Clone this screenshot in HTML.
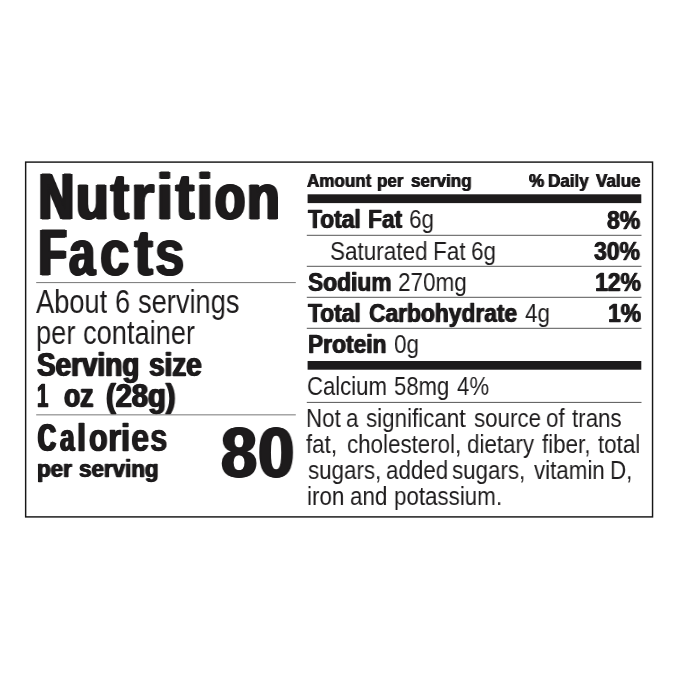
<!DOCTYPE html>
<html lang="en">
<head>
<meta charset="utf-8">
<title>Nutrition Facts</title>
<style>
html,body{margin:0;padding:0;background:#fff;overflow:hidden;}
body{width:679px;height:679px;position:relative;overflow:hidden;font-family:"Liberation Sans",sans-serif;color:#1d1b1c;}
.t{position:absolute;white-space:nowrap;line-height:1;transform-origin:0 0;font-kerning:normal;will-change:transform;}
.b{font-weight:bold;}
.r{position:absolute;}
</style>
</head>
<body>
<svg id="lines" class="r" width="679" height="679" viewBox="0 0 679 679" style="left:0;top:0" shape-rendering="geometricPrecision">
<rect x="25.65" y="162.10" width="626.90" height="354.80" fill="none" stroke="#161616" stroke-width="1.45"/>
<line x1="36.20" y1="282.60" x2="295.80" y2="282.60" stroke="#777" stroke-width="1.00"/>
<line x1="36.20" y1="414.85" x2="295.80" y2="414.85" stroke="#777" stroke-width="1.00"/>
<line x1="306.80" y1="235.30" x2="641.50" y2="235.30" stroke="#555" stroke-width="1.00"/>
<line x1="306.80" y1="266.30" x2="641.50" y2="266.30" stroke="#555" stroke-width="1.00"/>
<line x1="306.80" y1="297.30" x2="641.50" y2="297.30" stroke="#555" stroke-width="1.00"/>
<line x1="306.80" y1="328.30" x2="641.50" y2="328.30" stroke="#555" stroke-width="1.00"/>
<line x1="306.80" y1="402.40" x2="641.50" y2="402.40" stroke="#555" stroke-width="1.00"/>
<rect x="307.60" y="194.30" width="333.70" height="8.80" fill="#1d1b1c"/>
<rect x="307.60" y="361.00" width="333.70" height="8.70" fill="#1d1b1c"/>
</svg>
<div class="t b" id="t1_0" style="left:38.83px;top:164.21px;font-size:65.60px;transform:scaleX(0.7318);-webkit-text-stroke:1.10px #1d1b1c;text-shadow:2.75px 0 0 #1d1b1c,-2.75px 0 0 #1d1b1c">N</div>
<div class="t b" id="t1_1" style="left:75.56px;top:164.21px;font-size:65.60px;transform:scaleX(0.8109);-webkit-text-stroke:1.10px #1d1b1c;text-shadow:1.99px 0 0 #1d1b1c,-1.99px 0 0 #1d1b1c">u</div>
<div class="t b" id="t1_2" style="left:111.16px;top:164.21px;font-size:65.60px;transform:scaleX(0.8070);-webkit-text-stroke:1.10px #1d1b1c;text-shadow:2.02px 0 0 #1d1b1c,-2.02px 0 0 #1d1b1c">t</div>
<div class="t b" id="t1_3" style="left:131.00px;top:164.21px;font-size:65.60px;transform:scaleX(0.9158);-webkit-text-stroke:1.10px #1d1b1c;text-shadow:1.18px 0 0 #1d1b1c,-1.18px 0 0 #1d1b1c">r</div>
<div class="t b" id="t1_4" style="left:156.51px;top:164.21px;font-size:65.60px;transform:scaleX(0.8500);-webkit-text-stroke:1.10px #1d1b1c;text-shadow:2.12px 0 0 #1d1b1c,-2.12px 0 0 #1d1b1c">i</div>
<div class="t b" id="t1_5" style="left:176.02px;top:164.21px;font-size:65.60px;transform:scaleX(0.8179);-webkit-text-stroke:1.10px #1d1b1c;text-shadow:1.93px 0 0 #1d1b1c,-1.93px 0 0 #1d1b1c">t</div>
<div class="t b" id="t1_6" style="left:197.31px;top:164.21px;font-size:65.60px;transform:scaleX(0.8500);-webkit-text-stroke:1.10px #1d1b1c;text-shadow:2.12px 0 0 #1d1b1c,-2.12px 0 0 #1d1b1c">i</div>
<div class="t b" id="t1_7" style="left:215.13px;top:164.21px;font-size:65.60px;transform:scaleX(0.7519);-webkit-text-stroke:1.10px #1d1b1c;text-shadow:2.27px 0 0 #1d1b1c,-2.27px 0 0 #1d1b1c">o</div>
<div class="t b" id="t1_8" style="left:246.60px;top:164.21px;font-size:65.60px;transform:scaleX(0.8174);-webkit-text-stroke:1.10px #1d1b1c;text-shadow:1.93px 0 0 #1d1b1c,-1.93px 0 0 #1d1b1c">n</div>
<div class="t b" id="t2_0" style="left:38.73px;top:220.01px;font-size:65.60px;transform:scaleX(0.6835);-webkit-text-stroke:1.10px #1d1b1c;text-shadow:2.93px 0 0 #1d1b1c,-2.93px 0 0 #1d1b1c">F</div>
<div class="t b" id="t2_1" style="left:69.40px;top:220.01px;font-size:65.60px;transform:scaleX(0.7181);-webkit-text-stroke:1.10px #1d1b1c;text-shadow:1.64px 0 0 #1d1b1c,-1.64px 0 0 #1d1b1c">a</div>
<div class="t b" id="t2_2" style="left:99.96px;top:220.01px;font-size:65.60px;transform:scaleX(0.8008);-webkit-text-stroke:1.10px #1d1b1c;text-shadow:1.58px 0 0 #1d1b1c,-1.58px 0 0 #1d1b1c">c</div>
<div class="t b" id="t2_3" style="left:134.52px;top:220.01px;font-size:65.60px;transform:scaleX(0.8003);-webkit-text-stroke:1.10px #1d1b1c;text-shadow:2.08px 0 0 #1d1b1c,-2.08px 0 0 #1d1b1c">t</div>
<div class="t b" id="t2_4" style="left:155.42px;top:220.01px;font-size:65.60px;transform:scaleX(0.8066);-webkit-text-stroke:1.10px #1d1b1c;text-shadow:1.16px 0 0 #1d1b1c,-1.16px 0 0 #1d1b1c">s</div>
<div class="t" id="l1_0" style="left:35.85px;top:285.90px;font-size:32.50px;transform:scaleX(0.8382)">About</div>
<div class="t" id="l1_1" style="left:114.87px;top:285.90px;font-size:32.50px;transform:scaleX(0.8382)">6</div>
<div class="t" id="l1_2" style="left:138.40px;top:285.90px;font-size:32.50px;transform:scaleX(0.8382)">servings</div>
<div class="t" id="l2_0" style="left:36.12px;top:317.00px;font-size:32.50px;transform:scaleX(0.8382)">per</div>
<div class="t" id="l2_1" style="left:83.13px;top:317.00px;font-size:32.50px;transform:scaleX(0.8382)">container</div>
<div class="t b" id="l3_0" style="left:37.07px;top:348.50px;font-size:32.30px;transform:scaleX(0.8637);-webkit-text-stroke:0.50px #1d1b1c;text-shadow:1.00px 0 0 #1d1b1c,-1.00px 0 0 #1d1b1c">Serving</div>
<div class="t b" id="l3_1" style="left:148.93px;top:348.50px;font-size:32.30px;transform:scaleX(0.8637);-webkit-text-stroke:0.50px #1d1b1c;text-shadow:1.00px 0 0 #1d1b1c,-1.00px 0 0 #1d1b1c">size</div>
<div class="t b" id="l4_0" style="left:37.44px;top:379.50px;font-size:32.30px;transform:scaleX(0.6299);-webkit-text-stroke:0.50px #1d1b1c;text-shadow:1.00px 0 0 #1d1b1c,-1.00px 0 0 #1d1b1c">1</div>
<div class="t b" id="l4_1" style="left:64.00px;top:379.50px;font-size:32.30px;transform:scaleX(0.8190);-webkit-text-stroke:0.50px #1d1b1c;text-shadow:1.00px 0 0 #1d1b1c,-1.00px 0 0 #1d1b1c">oz</div>
<div class="t b" id="l4_2" style="left:105.53px;top:379.50px;font-size:32.30px;transform:scaleX(0.8998);-webkit-text-stroke:0.50px #1d1b1c;text-shadow:1.00px 0 0 #1d1b1c,-1.00px 0 0 #1d1b1c">(28g)</div>
<div class="t b" id="c1_0" style="left:37.96px;top:418.51px;font-size:38.00px;transform:scaleX(0.6529);-webkit-text-stroke:0.50px #1d1b1c;text-shadow:1.97px 0 0 #1d1b1c,-1.97px 0 0 #1d1b1c">C</div>
<div class="t b" id="c1_1" style="left:59.73px;top:418.51px;font-size:38.00px;transform:scaleX(0.6878);-webkit-text-stroke:0.50px #1d1b1c;text-shadow:1.22px 0 0 #1d1b1c,-1.22px 0 0 #1d1b1c">a</div>
<div class="t b" id="c1_2" style="left:77.42px;top:418.51px;font-size:38.00px;transform:scaleX(0.8500);-webkit-text-stroke:0.50px #1d1b1c;text-shadow:1.08px 0 0 #1d1b1c,-1.08px 0 0 #1d1b1c">l</div>
<div class="t b" id="c1_3" style="left:88.53px;top:418.51px;font-size:38.00px;transform:scaleX(0.7983);-webkit-text-stroke:0.50px #1d1b1c;text-shadow:0.90px 0 0 #1d1b1c,-0.90px 0 0 #1d1b1c">o</div>
<div class="t b" id="c1_4" style="left:108.05px;top:418.51px;font-size:38.00px;transform:scaleX(0.8920);-webkit-text-stroke:0.50px #1d1b1c;text-shadow:0.68px 0 0 #1d1b1c,-0.68px 0 0 #1d1b1c">r</div>
<div class="t b" id="c1_5" style="left:121.27px;top:418.51px;font-size:38.00px;transform:scaleX(0.8500);-webkit-text-stroke:0.50px #1d1b1c;text-shadow:1.11px 0 0 #1d1b1c,-1.11px 0 0 #1d1b1c">i</div>
<div class="t b" id="c1_6" style="left:131.13px;top:418.51px;font-size:38.00px;transform:scaleX(0.8650);-webkit-text-stroke:0.50px #1d1b1c;text-shadow:0.44px 0 0 #1d1b1c,-0.44px 0 0 #1d1b1c">e</div>
<div class="t b" id="c1_7" style="left:149.62px;top:418.51px;font-size:38.00px;transform:scaleX(0.8250);-webkit-text-stroke:0.50px #1d1b1c;text-shadow:0.48px 0 0 #1d1b1c,-0.48px 0 0 #1d1b1c">s</div>
<div class="t b" id="c2_0" style="left:37.43px;top:456.80px;font-size:24.60px;transform:scaleX(0.9090);-webkit-text-stroke:0.35px #1d1b1c;text-shadow:0.70px 0 0 #1d1b1c,-0.70px 0 0 #1d1b1c">per</div>
<div class="t b" id="c2_1" style="left:79.38px;top:456.80px;font-size:24.60px;transform:scaleX(0.9090);-webkit-text-stroke:0.35px #1d1b1c;text-shadow:0.70px 0 0 #1d1b1c,-0.70px 0 0 #1d1b1c">serving</div>
<div class="t b" id="c3_0" style="left:220.53px;top:417.71px;font-size:70.50px;transform:scaleX(0.9183);-webkit-text-stroke:0.80px #1d1b1c;text-shadow:1.52px 0 0 #1d1b1c,-1.52px 0 0 #1d1b1c">8</div>
<div class="t b" id="c3_1" style="left:257.66px;top:417.71px;font-size:70.50px;transform:scaleX(0.9251);-webkit-text-stroke:0.80px #1d1b1c;text-shadow:1.47px 0 0 #1d1b1c,-1.47px 0 0 #1d1b1c">0</div>
<div class="t b" id="h1_0" style="left:307.39px;top:171.50px;font-size:18.60px;transform:scaleX(0.9163);-webkit-text-stroke:0.20px #1d1b1c;text-shadow:0.40px 0 0 #1d1b1c,-0.40px 0 0 #1d1b1c">Amount</div>
<div class="t b" id="h1_1" style="left:377.32px;top:171.50px;font-size:18.60px;transform:scaleX(0.9163);-webkit-text-stroke:0.20px #1d1b1c;text-shadow:0.40px 0 0 #1d1b1c,-0.40px 0 0 #1d1b1c">per</div>
<div class="t b" id="h1_2" style="left:411.15px;top:171.50px;font-size:18.60px;transform:scaleX(0.9163);-webkit-text-stroke:0.20px #1d1b1c;text-shadow:0.40px 0 0 #1d1b1c,-0.40px 0 0 #1d1b1c">serving</div>
<div class="t b" id="h2_0" style="left:528.56px;top:171.50px;font-size:18.60px;transform:scaleX(0.9163);-webkit-text-stroke:0.20px #1d1b1c;text-shadow:0.40px 0 0 #1d1b1c,-0.40px 0 0 #1d1b1c">%</div>
<div class="t b" id="h2_1" style="left:548.47px;top:171.50px;font-size:18.60px;transform:scaleX(0.9163);-webkit-text-stroke:0.20px #1d1b1c;text-shadow:0.40px 0 0 #1d1b1c,-0.40px 0 0 #1d1b1c">Daily</div>
<div class="t b" id="h2_2" style="left:595.72px;top:171.50px;font-size:18.60px;transform:scaleX(0.9163);-webkit-text-stroke:0.20px #1d1b1c;text-shadow:0.40px 0 0 #1d1b1c,-0.40px 0 0 #1d1b1c">Value</div>
<div class="t b" id="r1a_0" style="left:308.06px;top:207.41px;font-size:25.40px;transform:scaleX(0.8975);-webkit-text-stroke:0.30px #1d1b1c;text-shadow:0.60px 0 0 #1d1b1c,-0.60px 0 0 #1d1b1c">Total</div>
<div class="t b" id="r1a_1" style="left:368.47px;top:207.41px;font-size:25.40px;transform:scaleX(0.8975);-webkit-text-stroke:0.30px #1d1b1c;text-shadow:0.60px 0 0 #1d1b1c,-0.60px 0 0 #1d1b1c">Fat</div>
<div class="t" id="r1b_0" style="left:408.95px;top:207.41px;font-size:25.20px;transform:scaleX(0.8929)">6g</div>
<div class="t b" id="r1c_0" style="left:607.30px;top:207.60px;font-size:25.40px;transform:scaleX(0.9048);-webkit-text-stroke:0.30px #1d1b1c;text-shadow:0.60px 0 0 #1d1b1c,-0.60px 0 0 #1d1b1c">8%</div>
<div class="t" id="r2a_0" style="left:330.21px;top:238.60px;font-size:25.20px;transform:scaleX(0.8929)">Saturated</div>
<div class="t" id="r2a_1" style="left:433.07px;top:238.60px;font-size:25.20px;transform:scaleX(0.8929)">Fat</div>
<div class="t" id="r2a_2" style="left:471.10px;top:238.60px;font-size:25.20px;transform:scaleX(0.8929)">6g</div>
<div class="t b" id="r2c_0" style="left:593.98px;top:238.70px;font-size:25.40px;transform:scaleX(0.9048);-webkit-text-stroke:0.30px #1d1b1c;text-shadow:0.60px 0 0 #1d1b1c,-0.60px 0 0 #1d1b1c">30%</div>
<div class="t b" id="r3a_0" style="left:307.65px;top:269.70px;font-size:25.40px;transform:scaleX(0.8975);-webkit-text-stroke:0.30px #1d1b1c;text-shadow:0.60px 0 0 #1d1b1c,-0.60px 0 0 #1d1b1c">Sodium</div>
<div class="t" id="r3b_0" style="left:397.70px;top:269.71px;font-size:25.20px;transform:scaleX(0.8929)">270mg</div>
<div class="t b" id="r3c_0" style="left:594.63px;top:269.70px;font-size:25.40px;transform:scaleX(0.9048);-webkit-text-stroke:0.30px #1d1b1c;text-shadow:0.60px 0 0 #1d1b1c,-0.60px 0 0 #1d1b1c">12%</div>
<div class="t b" id="r4a_0" style="left:308.06px;top:300.70px;font-size:25.40px;transform:scaleX(0.8975);-webkit-text-stroke:0.30px #1d1b1c;text-shadow:0.60px 0 0 #1d1b1c,-0.60px 0 0 #1d1b1c">Total</div>
<div class="t b" id="r4a_1" style="left:368.80px;top:300.70px;font-size:25.40px;transform:scaleX(0.8975);-webkit-text-stroke:0.30px #1d1b1c;text-shadow:0.60px 0 0 #1d1b1c,-0.60px 0 0 #1d1b1c">Carbohydrate</div>
<div class="t" id="r4b_0" style="left:524.50px;top:300.71px;font-size:25.20px;transform:scaleX(0.8929)">4g</div>
<div class="t b" id="r4c_0" style="left:607.75px;top:300.70px;font-size:25.40px;transform:scaleX(0.9048);-webkit-text-stroke:0.30px #1d1b1c;text-shadow:0.60px 0 0 #1d1b1c,-0.60px 0 0 #1d1b1c">1%</div>
<div class="t b" id="r5a_0" style="left:307.66px;top:331.81px;font-size:25.40px;transform:scaleX(0.8975);-webkit-text-stroke:0.30px #1d1b1c;text-shadow:0.60px 0 0 #1d1b1c,-0.60px 0 0 #1d1b1c">Protein</div>
<div class="t" id="r5b_0" style="left:394.05px;top:331.81px;font-size:25.20px;transform:scaleX(0.8929)">0g</div>
<div class="t" id="r6_0" style="left:306.87px;top:374.40px;font-size:25.90px;transform:scaleX(0.8539)">Calcium</div>
<div class="t" id="r6_1" style="left:394.21px;top:374.40px;font-size:25.90px;transform:scaleX(0.8539)">58mg</div>
<div class="t" id="r6_2" style="left:457.00px;top:374.40px;font-size:25.90px;transform:scaleX(0.8539)">4%</div>
<div class="t" id="p1_0" style="left:306.40px;top:405.81px;font-size:25.60px;transform:scaleX(0.8730)">Not</div>
<div class="t" id="p1_1" style="left:346.33px;top:405.81px;font-size:25.60px;transform:scaleX(0.8730)">a</div>
<div class="t" id="p1_2" style="left:366.02px;top:405.81px;font-size:25.60px;transform:scaleX(0.8730)">significant</div>
<div class="t" id="p1_3" style="left:473.62px;top:405.81px;font-size:25.60px;transform:scaleX(0.8730)">source</div>
<div class="t" id="p1_4" style="left:545.78px;top:405.81px;font-size:25.60px;transform:scaleX(0.8730)">of</div>
<div class="t" id="p1_5" style="left:572.00px;top:405.81px;font-size:25.60px;transform:scaleX(0.8730)">trans</div>
<div class="t" id="p2_0" style="left:306.23px;top:432.21px;font-size:25.60px;transform:scaleX(0.8730)">fat,</div>
<div class="t" id="p2_1" style="left:347.34px;top:432.21px;font-size:25.60px;transform:scaleX(0.8730)">cholesterol,</div>
<div class="t" id="p2_2" style="left:466.82px;top:432.21px;font-size:25.60px;transform:scaleX(0.8730)">dietary</div>
<div class="t" id="p2_3" style="left:542.25px;top:432.21px;font-size:25.60px;transform:scaleX(0.8730)">fiber,</div>
<div class="t" id="p2_4" style="left:598.16px;top:432.21px;font-size:25.60px;transform:scaleX(0.8730)">total</div>
<div class="t" id="p3_0" style="left:307.59px;top:458.21px;font-size:25.60px;transform:scaleX(0.8730)">sugars,</div>
<div class="t" id="p3_1" style="left:386.00px;top:458.21px;font-size:25.60px;transform:scaleX(0.8730)">added</div>
<div class="t" id="p3_2" style="left:451.64px;top:458.21px;font-size:25.60px;transform:scaleX(0.8730)">sugars,</div>
<div class="t" id="p3_3" style="left:534.45px;top:458.21px;font-size:25.60px;transform:scaleX(0.8730)">vitamin</div>
<div class="t" id="p3_4" style="left:609.89px;top:458.21px;font-size:25.60px;transform:scaleX(0.8730)">D,</div>
<div class="t" id="p4_0" style="left:306.84px;top:484.31px;font-size:25.60px;transform:scaleX(0.8730)">iron</div>
<div class="t" id="p4_1" style="left:350.36px;top:484.31px;font-size:25.60px;transform:scaleX(0.8730)">and</div>
<div class="t" id="p4_2" style="left:394.02px;top:484.31px;font-size:25.60px;transform:scaleX(0.8730)">potassium.</div>
</body>
</html>
